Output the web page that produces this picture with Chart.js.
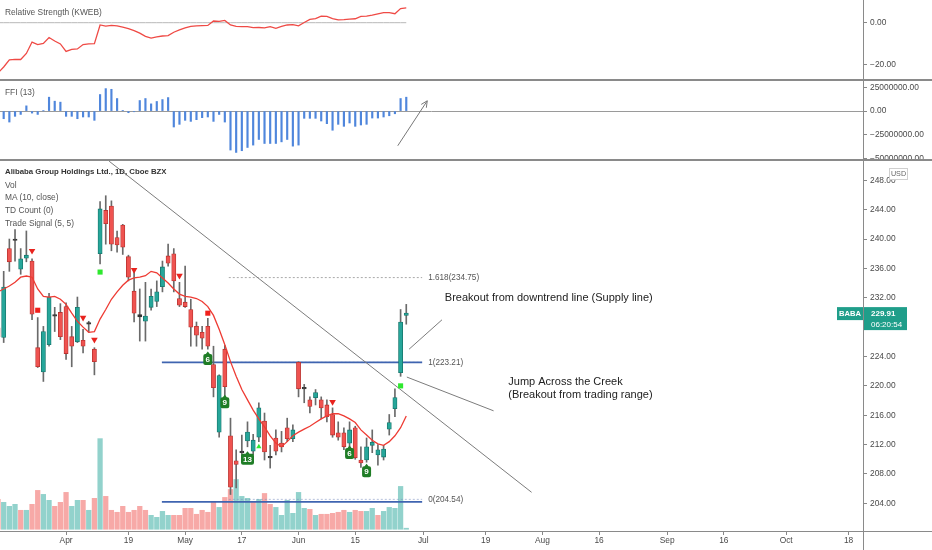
<!DOCTYPE html>
<html lang="en">
<head>
<meta charset="UTF-8">
<title>BABA 1D</title>
<script src="https://cdn.jsdelivr.net/npm/chart.js"></script>
<style>
    body { margin: 0; background: #fff; }
    #wrap { position: relative; width: 932px; height: 550px; overflow: hidden; font-family: 'Liberation Sans', Arial, sans-serif; }
    #wrap canvas { position: absolute; left: 0; }
    .sep { position: absolute; background: #8a8a8a; }
    .leg { position: absolute; left: 5px; font-size: 8.4px; color: #555; white-space: nowrap; line-height: 12.7px; }
</style>
</head>
<body>
<div id="wrap">
    <canvas id="rsChart" width="932" height="79" style="top:0"></canvas>
    <canvas id="ffiChart" width="932" height="78" style="top:81px"></canvas>
    <canvas id="mainChart" width="932" height="389" style="top:161px"></canvas>

    <div class="sep" style="left:0;top:79px;width:932px;height:1.5px"></div>
    <div class="sep" style="left:0;top:159px;width:932px;height:1.5px"></div>
    <div class="sep" style="left:0;top:530.5px;width:932px;height:1px"></div>
    <div class="sep" style="left:862.5px;top:0;width:1.5px;height:550px"></div>

    <div class="leg" style="top:6px">Relative Strength (KWEB)</div>
    <div class="leg" style="top:86px">FFI (13)</div>
    <div class="leg" style="top:166px">
        <div style="color:#333;font-weight:bold;font-size:7.8px">Alibaba Group Holdings Ltd., 1D, Cboe BZX</div>
        <div>Vol</div>
        <div>MA (10, close)</div>
        <div>TD Count (0)</div>
        <div>Trade Signal (5, 5)</div>
    </div>
</div>

<script>
    // bar 0 = Mar 16 2021, one bar per trading day
    const xTickPos = [12, 23, 33, 43, 53, 63, 75, 86, 96, 106, 118, 128, 139, 150];
    const xTickLabels = ['Apr', '19', 'May', '17', 'Jun', '15', 'Jul', '19', 'Aug', '16', 'Sep', '16', 'Oct', '18'];

    const opens  = [227.9,226.6,238.7,239.8,235.9,237.4,237.0,225.2,221.9,225.6,
                    229.6,230.0,230.8,226.7,226.0,226.2,228.4,225.0,238.0,243.9,
                    244.5,240.2,241.9,237.6,232.9,229.4,228.8,230.7,231.5,233.5,
                    237.7,238.0,231.9,231.4,230.4,228.1,227.3,228.1,222.9,213.7,
                    225.0,213.2,209.8,210.9,212.5,211.1,213.0,215.2,210.4,212.9,
                    212.2,214.3,212.8,223.2,219.6,218.1,218.4,218.1,217.4,216.1,
                    213.6,213.6,212.2,214.3,209.9,209.9,211.9,210.6,210.3,214.1,
                    216.9,221.8,229.6];
    const highs  = [228.5,235.6,240.0,241.3,238.7,241.1,237.3,229.3,228.1,232.6,
                    230.7,231.2,231.3,228.1,232.1,227.7,228.8,225.2,245.1,245.9,
                    245.2,241.1,242.0,237.8,235.5,233.2,234.1,233.2,234.3,237.0,
                    239.3,238.7,234.1,236.3,231.8,228.7,228.1,229.2,225.4,221.5,
                    225.5,215.6,211.3,213.3,215.1,213.4,217.7,216.3,211.9,214.0,
                    213.8,215.6,214.7,223.3,220.2,218.5,219.5,218.5,218.1,217.0,
                    215.1,214.3,215.1,214.5,211.7,212.9,214.0,212.0,211.9,216.1,
                    219.6,230.4,231.1];
    const lows   = [226.0,225.9,235.6,237.0,235.2,236.9,229.0,222.5,220.6,225.4,
                    227.4,226.3,223.6,222.6,225.9,224.5,227.3,221.5,236.6,239.3,
                    238.4,238.2,237.9,234.3,228.7,226.1,226.1,230.3,230.8,232.8,
                    236.3,232.8,230.8,230.7,225.4,225.4,225.0,225.0,218.5,213.0,
                    218.0,205.2,206.1,210.3,211.7,210.6,212.4,209.9,208.8,210.6,
                    211.0,212.4,212.4,218.5,217.7,216.3,217.4,215.5,215.1,213.0,
                    212.6,211.3,211.5,210.0,208.9,209.6,210.9,209.2,209.9,213.3,
                    215.8,221.3,228.4];
    const closes = [226.7,233.45,236.9,240.0,237.3,237.8,229.75,222.6,227.4,232.1,
                    229.5,226.7,224.4,225.4,230.7,225.4,228.5,223.3,244.1,242.1,
                    239.3,239.2,238.9,234.8,229.9,229.7,229.5,232.2,232.8,236.2,
                    236.7,234.3,231.0,230.8,228.0,226.9,226.5,225.4,219.75,221.4,
                    219.9,206.2,209.3,211.0,213.7,212.6,217.0,211.0,210.2,211.1,
                    211.7,212.8,214.0,219.6,219.7,217.2,219.1,217.0,215.8,213.3,
                    213.0,211.7,214.0,210.2,209.5,211.7,212.3,211.3,211.4,215.0,
                    218.4,228.7,229.91];
    // volume, millions of shares
    const volumes = [22.5,20.3,17.3,18.8,14.3,14.3,18.8,29.3,26.3,21.8,
                     17.3,20.3,27.8,17.3,21.8,21.8,14.3,23.3,68.3,24.8,
                     14.3,12.8,17.3,12.8,14.3,17.3,14.3,10.5,9.0,13.5,
                     10.5,10.5,10.5,15.8,15.8,11.3,14.3,12.8,20.3,16.5,
                     24.0,30.0,37.5,24.8,23.3,21.0,22.5,27.0,18.8,16.5,
                     10.5,21.8,12.0,27.8,15.8,15.0,10.5,11.3,11.3,12.0,
                     12.8,14.3,12.8,14.3,13.5,13.5,15.8,10.5,13.5,16.5,
                     15.8,32.3,0.8];
    const ma10 = [232.8,233.2,233.6,234.1,234.8,234.96,234.8,233.2,232.2,232.1,
                  232.2,231.8,231.1,229.9,228.8,228.0,227.3,227.4,229.1,230.4,
                  231.8,232.8,233.7,234.4,234.7,234.8,235.0,235.6,235.4,234.7,
                  234.0,233.2,232.5,232.2,232.1,231.9,231.5,230.8,229.6,227.7,
                  225.6,223.3,221.3,219.5,218.1,216.7,215.5,214.4,213.2,212.2,
                  211.7,212.4,213.2,213.7,214.1,214.5,215.0,215.5,215.9,216.2,
                  216.2,215.9,215.5,215.0,214.0,213.3,212.6,212.1,211.9,212.4,
                  213.2,214.3,215.9];
    const relStrength = [-24.2,-21.3,-17.9,-17.6,-17.7,-14.8,-9.3,-10.5,-10.0,-7.1,
                         -8.8,-10.2,-13.8,-12.8,-12.6,-10.5,-10.2,-10.1,-1.1,-1.6,
                         -1.3,-1.5,-2.1,-2.9,-3.8,-5.0,-6.6,-7.4,-6.8,-6.4,
                         -6.2,-4.6,-3.5,-2.5,-1.8,-1.5,-1.4,-1.3,0.8,0.6,
                         1.1,-1.1,-1.8,-1.9,-1.9,-2.4,-2.3,-2.5,-1.9,-2.7,
                         -1.8,-1.1,-0.9,-1.5,0.1,1.6,2.0,3.2,3.0,2.0,
                         1.4,1.5,1.7,1.9,3.0,3.2,3.6,4.2,4.8,4.8,
                         4.3,6.8,7.1];
    // force index, millions
    const ffi = [-6.0,-8.0,-11.5,-5.5,-3.5,5.5,-2.1,-3.5,0.3,14.6,
                 10.4,9.4,-5.5,-5.5,-8.0,-6.2,-6.2,-9.7,17.4,23.6,
                 22.9,13.2,0.7,-1.7,-0.7,11.1,13.2,7.6,10.1,12.1,
                 14.2,-16.7,-13.9,-9.7,-10.8,-9.0,-6.9,-6.2,-10.8,-3.5,
                 -11.5,-40.9,-43.4,-41.6,-38.2,-35.7,-29.8,-34.0,-34.0,-34.0,
                 -32.3,-29.8,-36.8,-35.7,-7.6,-7.6,-7.6,-10.4,-13.2,-20.1,
                 -13.9,-16.0,-12.5,-16.0,-14.6,-13.9,-7.3,-7.3,-6.2,-4.9,
                 -2.8,13.2,14.6];

    const priceTicks = [204, 208, 212, 216, 220, 224, 228, 232, 236, 240, 244, 248];
    const rsTicks = [0, -20];
    const ffiTicks = [25, 0, -25, -50];

    // signals: bar index + price
    const sellBars = [6, 15, 17, 24, 32, 59];
    const sellPx   = [238.4, 229.3, 226.3, 235.8, 235.0, 217.8];
    const stopBars = [7, 37];
    const stopPx   = [230.3, 229.9];
    const buyBars  = [18, 71];
    const buyPx    = [235.5, 220.0];
    const upBars   = [46];
    const upPx     = [211.7];
    const tdBars   = [37, 40, 44, 62, 65];
    const tdPx     = [223.6, 217.7, 210.0, 210.8, 208.3];
    const tdText   = ['6', '9', '13', '6', '9'];

    // drawings: [bar0, price0, bar1, price1]
    const trendLines = [
        [19.6, 250.6, 94.1, 205.5],
        [72.1, 221.2, 87.4, 216.6],
        [72.5, 225.0, 78.3, 229.0]
    ];
    const levelLines = [223.2, 204.2];
    const levelFrom = 28.9, levelTo = 74.8;
    const fibLevels = ['1.618', '1', '0'];
    const fibPrices = [234.75, 223.21, 204.54];
    const fibFrom = 40.7;
    const noteText = ['Breakout from downtrend line (Supply line)', 'Jump Across the Creek', '(Breakout from trading range)'];
    const noteBar  = [78.8, 90.0, 90.0];
    const notePx   = [232.0, 220.5, 218.75];
    const ffiArrow = [70.5, -36.4, 75.7, 10.8];

    const xMin = 0.35, xMax = 152.55;
    const AXIS_W = 69;
    const FONT = "'Liberation Sans', Arial, sans-serif";
    const GREEN = '#26a69a', RED = '#ef5350';

    function fmt(v) {
        return (v < 0 ? '\u2212' : '') + Math.abs(v).toFixed(2);
    }

    function yAxis(min, max, ticks, labelFn, zeroLine) {
        return {
            position: 'right', min: min, max: max,
            afterBuildTicks: s => { s.ticks = ticks.map(v => ({ value: v })); },
            afterFit: s => { s.width = AXIS_W; s.paddingTop = 0; s.paddingBottom = 0; },
            ticks: { color: '#4a4a4a', font: { family: FONT, size: 8.4 }, padding: 3, callback: labelFn || fmt },
            grid: {
                drawOnChartArea: !!zeroLine, tickLength: 4, tickColor: '#888', tickWidth: 1, offset: false,
                color: c => (zeroLine && c.tick && c.tick.value === 0) ? '#9a9a9a' : 'rgba(0,0,0,0)'
            },
            border: { display: false }
        };
    }

    function xAxis(show) {
        return {
            type: 'linear', min: xMin, max: xMax, offset: false, display: show,
            afterBuildTicks: s => { s.ticks = xTickPos.map(v => ({ value: v })); },
            afterFit: s => {
                s.height = show ? 19 : 0;
                s.paddingLeft = 0; s.paddingRight = 0;
            },
            ticks: { autoSkip: false, maxRotation: 0, color: '#4a4a4a', font: { family: FONT, size: 8.4 }, padding: 1,
                     callback: (v, i) => xTickLabels[i] },
            grid: { drawOnChartArea: false, offset: false, tickLength: 4, tickColor: '#888', tickWidth: 1 },
            border: { display: false }
        };
    }

    const base = {
        responsive: false, animation: false, events: [],
        layout: { padding: 0, autoPadding: false },
        plugins: { legend: { display: false }, tooltip: { enabled: false } }
    };

    const seg = (a) => [{ x: a[0], y: a[1] }, { x: a[2], y: a[3] }];
    const lineSet = (data, color, width, dash, order) => ({
        type: 'line', data: data, borderColor: color, borderWidth: width, borderDash: dash || [],
        pointRadius: 0, fill: false, tension: 0, order: order
    });
    const pointSet = (bars, px, style, radius, color, rotation) => ({
        type: 'line', showLine: false, data: bars.map((b, k) => ({ x: b, y: px[k] })),
        pointStyle: style, pointRadius: radius, rotation: rotation || 0,
        pointBackgroundColor: color, pointBorderWidth: 0, order: 1
    });

    // --- relative strength pane
    new Chart(document.getElementById('rsChart'), {
        type: 'line',
        data: { datasets: [
            lineSet(relStrength.map((v, i) => ({ x: i, y: v })), '#ef4a45', 1.3, null, 1),
            lineSet(relStrength.map((v, i) => ({ x: i, y: 0 })), '#b8b8b8', 1, null, 2)
        ] },
        options: Object.assign({}, base, {
            scales: { x: xAxis(false), y: yAxis(-27.07, 10.91, rsTicks) }
        })
    });

    // --- FFI pane
    const arrowHead = {
        id: 'arrowHead',
        afterDatasetsDraw(chart) {
            const { ctx, scales: { x, y } } = chart;
            const x0 = x.getPixelForValue(ffiArrow[0]), y0 = y.getPixelForValue(ffiArrow[1]);
            const x1 = x.getPixelForValue(ffiArrow[2]), y1 = y.getPixelForValue(ffiArrow[3]);
            const a = Math.atan2(y1 - y0, x1 - x0);
            ctx.save();
            ctx.strokeStyle = '#777'; ctx.lineWidth = 1;
            ctx.beginPath();
            ctx.moveTo(x1 - 7 * Math.cos(a - 0.45), y1 - 7 * Math.sin(a - 0.45));
            ctx.lineTo(x1, y1);
            ctx.lineTo(x1 - 7 * Math.cos(a + 0.45), y1 - 7 * Math.sin(a + 0.45));
            ctx.stroke();
            ctx.restore();
        }
    };
    new Chart(document.getElementById('ffiChart'), {
        type: 'bar',
        data: { datasets: [
            { data: ffi.map((v, i) => ({ x: i, y: v })), backgroundColor: '#4f86dc', barThickness: 1.5, grouped: false, order: 2 },
            lineSet(seg(ffiArrow), '#777', 1, null, 1)
        ] },
        options: Object.assign({}, base, {
            scales: { x: xAxis(false), y: yAxis(-50.3, 31.6, ffiTicks, v => fmt(v * 1e6), true) }
        }),
        plugins: [arrowHead]
    });

    // --- price pane
    const overlay = {
        id: 'overlay',
        afterDatasetsDraw(chart) {
            const { ctx, scales: { x, y } } = chart;
            ctx.save();
            ctx.textBaseline = 'middle';
            ctx.textAlign = 'left';
            ctx.fillStyle = '#555';
            ctx.font = '8.2px ' + FONT;
            fibLevels.forEach((lv, k) => {
                ctx.fillText(lv + '(' + fibPrices[k].toFixed(2) + ')', x.getPixelForValue(levelTo) + 6, y.getPixelForValue(fibPrices[k]));
            });
            ctx.fillStyle = '#222';
            ctx.font = '11px ' + FONT;
            noteText.forEach((t, k) => {
                ctx.fillText(t, x.getPixelForValue(noteBar[k]), y.getPixelForValue(notePx[k]));
            });
            // TD count labels
            ctx.font = 'bold 8px ' + FONT;
            ctx.textAlign = 'center';
            tdText.forEach((t, k) => {
                const cx = x.getPixelForValue(tdBars[k]), cy = y.getPixelForValue(tdPx[k]);
                const w = t.length > 1 ? 13 : 9, h = 11;
                ctx.fillStyle = '#1f7d26';
                ctx.beginPath();
                ctx.roundRect(cx - w / 2, cy - h / 2, w, h, 2);
                ctx.moveTo(cx - 2, cy - h / 2);
                ctx.lineTo(cx, cy - h / 2 - 2.5);
                ctx.lineTo(cx + 2, cy - h / 2);
                ctx.fill();
                ctx.fillStyle = '#fff';
                ctx.fillText(t, cx, cy + 0.5);
            });
            ctx.restore();
        },
        afterDraw(chart) {
            const { ctx, scales: { y } } = chart;
            const left = chart.chartArea.right;
            const py = y.getPixelForValue(closes[closes.length - 1]);
            ctx.save();
            ctx.fillStyle = '#1f9e8a';
            ctx.fillRect(left - 26, py - 6, 26, 13);
            ctx.fillRect(left, py - 6, 44, 23);
            ctx.fillStyle = '#fff';
            ctx.textBaseline = 'middle';
            ctx.font = 'bold 7.6px ' + FONT;
            ctx.textAlign = 'center';
            ctx.fillText('BABA', left - 13, py + 0.5);
            ctx.textAlign = 'left';
            ctx.font = 'bold 8px ' + FONT;
            ctx.fillText(closes[closes.length - 1].toFixed(2), left + 8, py + 0.5);
            ctx.font = '8px ' + FONT;
            ctx.fillText('06:20:54', left + 8, py + 11.5);
            // currency tag
            ctx.fillStyle = '#fff';
            ctx.strokeStyle = '#cfcfcf';
            ctx.lineWidth = 1;
            ctx.fillRect(left + 26.5, 7.5, 18, 11);
            ctx.strokeRect(left + 26.5, 7.5, 18, 11);
            ctx.fillStyle = '#666';
            ctx.font = '7.2px ' + FONT;
            ctx.textAlign = 'center';
            ctx.fillText('USD', left + 35.5, 13.3);
            ctx.restore();
        }
    };

    // near-flat candles read as dark dashes on the reference
    const isDoji = opens.map((o, i) => Math.abs(closes[i] - o) < 0.3);
    const bodyColor = opens.map((o, i) => isDoji[i] ? '#333' : (closes[i] >= o ? GREEN : RED));
    const edgeColor = opens.map((o, i) => isDoji[i] ? '#333' : (closes[i] >= o ? '#17756b' : '#b8322f'));
    const volColor = closes.map((c, i) => (i > 0 && c >= closes[i - 1]) ? 'rgba(38,166,154,0.5)' : 'rgba(239,83,80,0.5)');

    const mainSets = [
        { type: 'bar', yAxisID: 'vol', data: volumes.map((v, i) => ({ x: i, y: v })), backgroundColor: volColor,
          barThickness: 4.6, grouped: false, order: 20 }
    ];
    fibPrices.forEach((p, k) => {
        mainSets.push(lineSet([{ x: fibFrom, y: p }, { x: levelTo, y: p }], k === 0 ? '#aaa' : 'rgba(120,140,190,0.55)', 1, [2, 2], 18));
    });
    levelLines.forEach(p => {
        mainSets.push(lineSet([{ x: levelFrom, y: p }, { x: levelTo, y: p }], '#3f64b0', 1.6, null, 17));
    });
    trendLines.forEach(t => mainSets.push(lineSet(seg(t), '#7c7c7c', 1, null, 16)));
    mainSets.push(
        { type: 'bar', data: lows.map((l, i) => ({ x: i, y: [l, highs[i]] })), backgroundColor: '#6a6a6a',
          barThickness: 1, grouped: false, order: 6 },
        { type: 'bar', data: opens.map((o, i) => ({ x: i, y: [o, closes[i]] })), backgroundColor: bodyColor,
          borderColor: edgeColor, borderWidth: 0.8, borderSkipped: false, minBarLength: 1.5,
          barThickness: 4.2, grouped: false, order: 5 },
        lineSet(ma10.map((v, i) => ({ x: i, y: v })), '#ee3b33', 1.3, null, 4),
        pointSet(sellBars, sellPx, 'triangle', 3.8, '#e8231e', 180),
        pointSet(stopBars, stopPx, 'rect', 3.6, '#f0201c'),
        pointSet(buyBars, buyPx, 'rect', 3.6, '#2ee82e'),
        pointSet(upBars, upPx, 'triangle', 3, '#2ee82e')
    );

    new Chart(document.getElementById('mainChart'), {
        type: 'bar',
        data: { datasets: mainSets },
        options: Object.assign({}, base, {
            scales: {
                x: xAxis(true),
                y: yAxis(200.23, 250.63, priceTicks),
                vol: { display: false, min: -1.3, max: 277.5 }
            }
        }),
        plugins: [overlay]
    });
</script>
</body>
</html>
